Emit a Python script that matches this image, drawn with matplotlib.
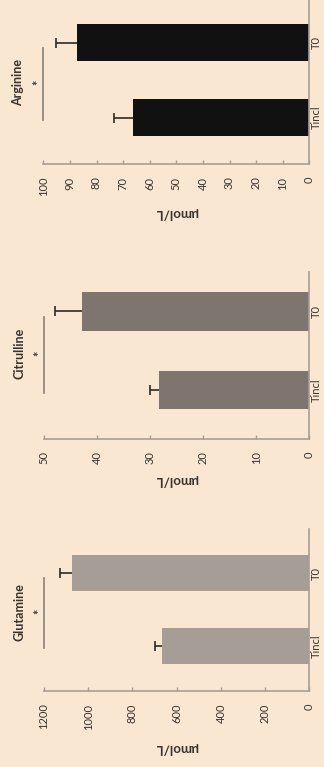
import numpy as np
import matplotlib
matplotlib.use("Agg")
import matplotlib.pyplot as plt

plt.rcParams['font.family'] = ['Lato', 'DejaVu Sans']

categories = ['Tincl', 'T0']

arginine_mean = [66.4, 87.2]
arginine_err = [7.0, 8.0]
citrulline_mean = [28.3, 42.9]
citrulline_err = [1.7, 5.1]
glutamine_mean = [668, 1075]
glutamine_err = [30, 53]

bg = '#f9e7d2'
axc = '#a89e94'
txt = '#3a3430'
W, H = 324, 767

# name, means, errors, axis max, tick step, bar colour,
# axes box in pixels (left, top, right, bottom), ylim top, unit label offset
panels = [
    ('Arginine', arginine_mean, arginine_err, 100, 10, '#111111',
     (43.3, 0, 309.3, 164), 1.57, 49),
    ('Citrulline', citrulline_mean, citrulline_err, 50, 10, '#7d756e',
     (44.3, 272, 309.3, 439), 1.5, 41),
    ('Glutamine', glutamine_mean, glutamine_err, 1200, 200, '#a59d96',
     (44, 529.3, 309.3, 691), 1.6, 57),
]

fig = plt.figure(figsize=(W / 100, H / 100), dpi=100, facecolor=bg)

for name, mean, err, vmax, step, col, box, ytop, lab_off in panels:
    l, t, r, b = box
    ax = fig.add_axes([l / W, 1 - b / H, (r - l) / W, (b - t) / H])
    ax.set_facecolor('none')
    y = np.arange(len(categories))
    mean = np.array(mean, dtype=float)
    err = np.array(err, dtype=float)
    ax.barh(y, mean, height=0.49, color=col, zorder=2)
    # one-sided error bars with a cap only at the outer end
    ax.hlines(y, mean, mean + err, color='#2e2a27', lw=1.2, zorder=3)
    ax.plot(mean + err, y, ls='none', marker='|', ms=7, mew=1.2,
            color='#2e2a27', zorder=3)
    ax.set_xlim(vmax, 0)
    ax.set_ylim(-0.62, ytop)

    ticks = np.arange(0, vmax + step, step)
    ax.set_xticks(ticks)
    ax.set_xticklabels([str(v) for v in ticks], rotation=90, va='top', ha='center')
    ax.tick_params(axis='x', direction='in', length=3, width=1, color=axc,
                   pad=9, labelsize=8, labelcolor=txt)

    ax.yaxis.tick_right()
    ax.set_yticks(y)
    ax.set_yticklabels(categories, rotation=90, va='center', ha='left')
    ax.tick_params(axis='y', length=0, pad=1, labelsize=8, labelcolor=txt)

    for s in ['left', 'top']:
        ax.spines[s].set_visible(False)
    for s in ['bottom', 'right']:
        ax.spines[s].set_color(axc)
        ax.spines[s].set_linewidth(1.2)

    # significance bracket, star and title
    ax.plot([vmax, vmax], [-0.03, 0.93], color='#8a8179', lw=1.2, clip_on=False)
    ax.annotate('*', xy=(vmax, 0.47), xytext=(-5, 0), textcoords='offset pixels',
                rotation=90, ha='center', va='center', fontsize=9,
                fontweight='bold', color=txt)
    ax.annotate(name, xy=(vmax, 0.47), xytext=(-25, 0), textcoords='offset pixels',
                rotation=90, ha='center', va='center', fontsize=9,
                fontweight='bold', color=txt)
    ax.annotate('μmol/L', xy=(0.5, 0), xycoords='axes fraction',
                xytext=(0, -lab_off), textcoords='offset pixels',
                rotation=180, ha='center', va='center', fontsize=9.5,
                fontweight='bold', color=txt)

fig.savefig('out.png', dpi=100, facecolor=bg)
